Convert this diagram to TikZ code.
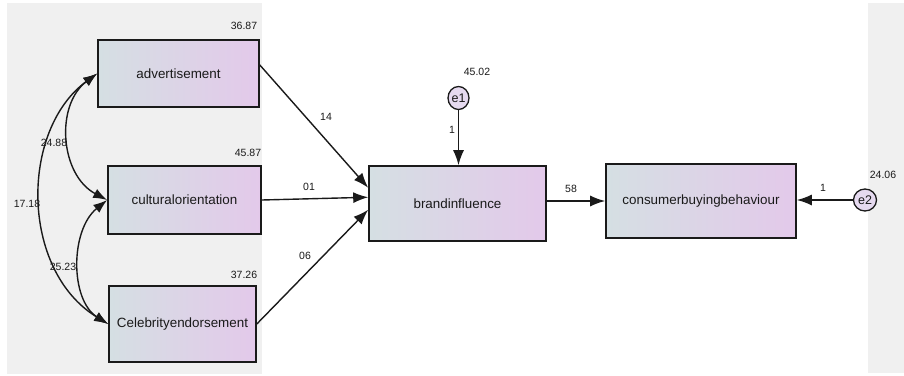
\documentclass[tikz,border=0pt]{standalone}
\usepackage{fontspec}
\setmainfont{Liberation Sans}
\usetikzlibrary{arrows.meta,shapes.geometric}
\definecolor{boxleft}{HTML}{D5DFE3}
\definecolor{boxright}{HTML}{E3C9EA}
\definecolor{errfill}{HTML}{E6DAF0}
\definecolor{bggray}{HTML}{F0F0F0}
\definecolor{ink}{HTML}{1A1A1A}
\tikzset{
  varbox/.style={draw=ink, line width=1.6pt, shading=axis, left color=boxleft, right color=boxright,
    inner sep=0pt, font=\fontsize{13.4}{15}\selectfont, text=ink},
  errnode/.style={draw=ink, line width=1.3pt, fill=errfill, ellipse, inner sep=0pt,
    font=\fontsize{12.5}{14}\selectfont, text=ink},
  path/.style={draw=ink, line width=1.4pt, -{Latex[length=15pt,width=11pt]}},
  cov/.style={draw=ink, line width=1.4pt, {Latex[length=14pt,width=10pt]}-{Latex[length=14pt,width=10pt]}},
  num/.style={font=\fontsize{10.5}{12}\selectfont, text=ink, inner sep=0pt}
}
\begin{document}
\begin{tikzpicture}[x=1pt,y=-1pt]
\useasboundingbox (0,0) rectangle (904,375);
\fill[white] (0,0) rectangle (904,375);
\fill[bggray] (7,3) rectangle (262,374);
\fill[bggray] (868,3) rectangle (904,373);

\node[varbox, minimum width=161pt, minimum height=67pt] (adv) at (178.5,73.5) {advertisement};
\node[varbox, minimum width=153pt, minimum height=68pt] (cult) at (184.5,200) {culturalorientation};
\node[varbox, minimum width=147pt, minimum height=76pt] (celeb) at (182.5,324) {Celebrityendorsement};
\node[varbox, minimum width=177pt, minimum height=75pt] (brand) at (457.5,203.5) {brandinfluence};
\node[varbox, minimum width=190pt, minimum height=74pt] (cons) at (701,201) {consumerbuyingbehaviour};
\node[errnode, minimum width=21pt, minimum height=23pt] (e1) at (458.5,98) {e1};
\node[errnode, minimum width=23pt, minimum height=22pt] (e2) at (865,200) {e2};

\draw[path] (adv.6) -- (brand.170);
\draw[path] (cult.east) -- (brand.176);
\draw[path] (celeb.east) -- (brand.184);
\draw[path] (e1.south) -- (e1.south |- brand.north);
\draw[path] (brand.east |- cons.west) -- (cons.west);
\draw[path] (e2.west) -- (e2.west -| cons.east);

\draw[cov] (adv.west) .. controls (55,105) and (60,175) .. (cult.west);
\draw[cov] (cult.west) .. controls (70,230) and (70,300) .. (celeb.west);
\draw[cov] (adv.west) .. controls (20,130) and (20,270) .. (celeb.west);

\node[num] (v1) at (244,26) {36.87};
\node[num] (v2) at (248,153) {45.87};
\node[num] (v3) at (244,275) {37.26};
\node[num] (c1) at (54,143) {24.88};
\node[num] (c2) at (27,204) {17.18};
\node[num] (c3) at (63,267) {25.23};
\node[num] (v4) at (477,72) {45.02};
\node[num] (v5) at (883,175) {24.06};
\node[num] (w1) at (326,117) {14};
\node[num] (w2) at (309,187) {01};
\node[num] (w3) at (305,256) {06};
\node[num] (w4) at (452,130) {1};
\node[num] (w5) at (571,189) {58};
\node[num] (w6) at (823,188) {1};
\end{tikzpicture}
\end{document}
